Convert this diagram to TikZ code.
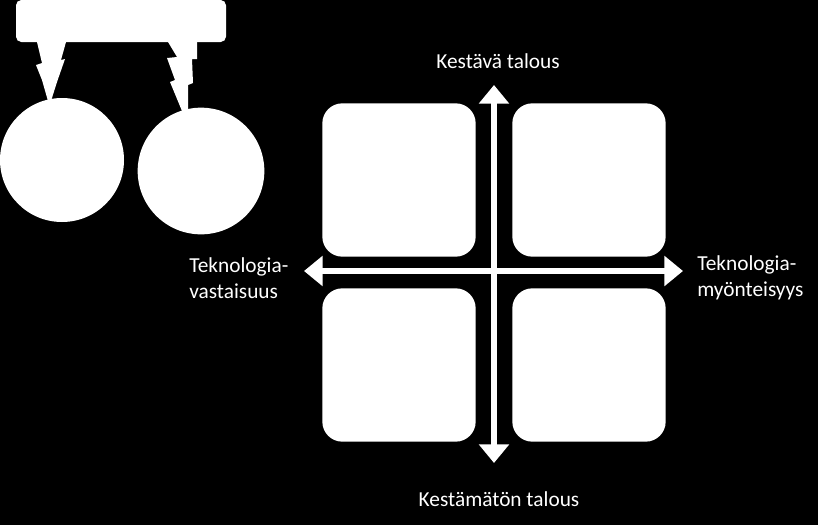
\documentclass[tikz,border=0pt]{standalone}
\usepackage{fontspec}
\setmainfont{Carlito}
\usetikzlibrary{arrows.meta}

\tikzset{
  quad/.style={fill=white, rounded corners=15pt, minimum width=115pt, minimum height=115pt, inner sep=0pt},
  ball/.style={circle, fill=white, inner sep=0pt},
  axis/.style={white, line width=4.5pt, {Triangle[width=22pt,length=14pt]}-{Triangle[width=22pt,length=14pt]}},
  lbl/.style={text=white, font=\fontsize{16}{19.5}\selectfont, inner sep=0pt}
}

\begin{document}
\begin{tikzpicture}[x=0.75pt,y=-0.75pt]
\fill[black] (0,0) rectangle (818,525);
%
\node[fill=white, rounded corners=4pt, minimum width=157.5pt, minimum height=31.5pt, inner sep=0pt] (top) at (121,21){};
\fill[white] (37,42)--(66,42)--(61,60)--(65,59)--(57,82)--(51,101)--(48,101)--(42,80)--(36,65)--(42,63)--cycle;
\fill[white] (168,42)--(197,42)--(197,59)--(192,59)--(193,83)--(188,85)--(188,111)--(182,111)--(170,82)--(175,80)--(167,58)--(177,57)--cycle;
\node[ball, minimum size=93pt] (c1) at (62,160){};
\node[ball, minimum size=95pt] (c2) at (201,171){};
%
\node[quad] (q1) at (399,180){};
\node[quad] (q2) at (589,180){};
\node[quad] (q3) at (399,365){};
\node[quad] (q4) at (589,365){};
%
\coordinate (n) at (494,85);
\coordinate (s) at (494,463);
\coordinate (w) at (304,271);
\coordinate (e) at (683,271);
\draw[axis] (s)--(n);
\draw[axis] (w)--(e);
%
\node[lbl] (up) at (498,61){Kestävä talous};
\node[lbl] (down) at (499,499){Kestämätön talous};
\node[lbl, anchor=west, align=left] (left) at (189,278){Teknologia-\\vastaisuus};
\node[lbl, anchor=west, align=left] (right) at (697,278){Teknologia-\\myönteisyys};
\end{tikzpicture}
\end{document}
